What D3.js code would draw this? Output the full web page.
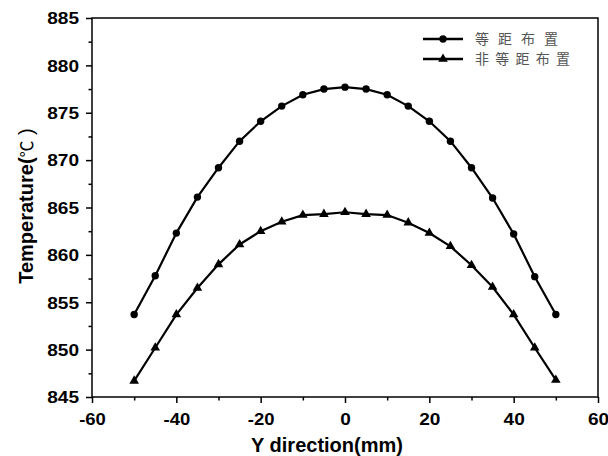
<!DOCTYPE html>
<html><head><meta charset="utf-8">
<script src="https://cdn.jsdelivr.net/npm/d3@7"></script>
<style>body{margin:0;background:#fff;}</style>
</head><body>
<svg id="c" width="608" height="456"></svg>
<script>
const xs = [-50,-45,-40,-35,-30,-25,-20,-15,-10,-5,0,5,10,15,20,25,30,35,40,45,50];
const equalSpacing = [853.7,857.8,862.3,866.1,869.2,872.0,874.1,875.7,876.9,877.5,877.7,877.5,876.9,875.7,874.1,872.0,869.2,866.0,862.2,857.7,853.7];
const unequalSpacing = [846.7,850.2,853.7,856.5,859.0,861.1,862.5,863.5,864.2,864.3,864.5,864.3,864.2,863.4,862.3,860.9,858.9,856.6,853.7,850.2,846.8];
const seriesNames = ["等距布置","非等距布置"];
const xTicks = [-60,-40,-20,0,20,40,60];
const yTicks = [845,850,855,860,865,870,875,880,885];

const svg = d3.select("#c");
const L=92,R=598,T=18,B=397;
const x = d3.scaleLinear().domain([-60,60]).range([L,R]);
const y = d3.scaleLinear().domain([845,885]).range([B,T]);
const fontNum = "'Liberation Sans', Arial, sans-serif";
const fmt = d => String(d);
const labW = s => s.replace(/-/g,"").length*10.6 + (s.match(/-/g)||[]).length*5.5;

// frame
svg.append("rect").attr("x",L).attr("y",T).attr("width",R-L).attr("height",B-T)
  .attr("fill","none").attr("stroke","#000").attr("stroke-width",1.5);

// axes
const xa = svg.append("g").attr("transform",`translate(0,${B})`)
  .call(d3.axisBottom(x).tickValues(xTicks).tickSize(6).tickFormat(fmt));
const xm = svg.append("g").attr("transform",`translate(0,${B})`)
  .call(d3.axisBottom(x).tickValues([-50,-30,-10,10,30,50]).tickSize(3.5).tickFormat(""));
const ya = svg.append("g").attr("transform",`translate(${L},0)`)
  .call(d3.axisLeft(y).tickValues(yTicks).tickSize(6).tickFormat(fmt));
const ym = svg.append("g").attr("transform",`translate(${L},0)`)
  .call(d3.axisLeft(y).tickValues([847.5,852.5,857.5,862.5,867.5,872.5,877.5,882.5]).tickSize(3.5).tickFormat(""));
[xa,xm,ya,ym].forEach(g=>{
  g.select(".domain").remove();
  g.selectAll("line").attr("stroke","#000").attr("stroke-width",1.5);
  g.selectAll("text").attr("font-family",fontNum).attr("font-weight","bold").attr("font-size",16).attr("fill","#000")
    .attr("textLength",function(){return labW(this.textContent);}).attr("lengthAdjust","spacingAndGlyphs");
});
xa.selectAll("text").attr("y",28).attr("dy",0);
ya.selectAll("text").attr("x",-13).attr("dy","0.36em");

// axis titles
svg.append("text").attr("x",327).attr("y",452).attr("text-anchor","middle")
  .attr("font-family",fontNum).attr("font-weight","bold").attr("font-size",20).text("Y direction(mm)");
const yt = svg.append("text").attr("transform","translate(33,206) rotate(-90)").attr("text-anchor","middle")
  .attr("font-family",fontNum).attr("font-weight","bold").attr("font-size",20);
yt.append("tspan").text("Temperature(");
yt.append("tspan").attr("font-weight","normal").attr("font-size",17).attr("font-family","'Noto Sans CJK SC', sans-serif").text("℃");
yt.append("tspan").attr("font-weight","normal").text(" )");

// lines
const line = d3.line().x((d,i)=>x(xs[i])).y(d=>y(d)).curve(d3.curveLinear);
svg.append("path").datum(equalSpacing).attr("d",line).attr("fill","none").attr("stroke","#000").attr("stroke-width",2.2);
svg.append("path").datum(unequalSpacing).attr("d",line).attr("fill","none").attr("stroke","#000").attr("stroke-width",2.2);

svg.append("g").selectAll("circle").data(equalSpacing).join("circle")
  .attr("cx",(d,i)=>x(xs[i])).attr("cy",d=>y(d)).attr("r",3.7).attr("fill","#000");
const tri = d3.symbol().type(d3.symbolTriangle).size(40);
svg.append("g").selectAll("path").data(unequalSpacing).join("path")
  .attr("d",tri).attr("transform",(d,i)=>`translate(${x(xs[i])},${y(d)})`).attr("fill","#000");

// legend
const lg = svg.append("g");
[0,1].forEach(k=>{
  const ly = 39 + k*20;
  lg.append("line").attr("x1",423).attr("x2",463).attr("y1",ly).attr("y2",ly).attr("stroke","#000").attr("stroke-width",2.4);
  if(k===0) lg.append("circle").attr("cx",443).attr("cy",ly).attr("r",3.7).attr("fill","#000");
  else lg.append("path").attr("d",tri).attr("transform",`translate(443,${ly})`).attr("fill","#000");
  lg.append("text").attr("x",475).attr("y",ly+5).attr("font-family","'Noto Sans CJK SC', sans-serif")
    .attr("font-size",14).attr("fill","#555")
    .attr("textLength",k===0?83:95).attr("lengthAdjust","spacing").text(seriesNames[k]);
});
</script>
</body></html>
